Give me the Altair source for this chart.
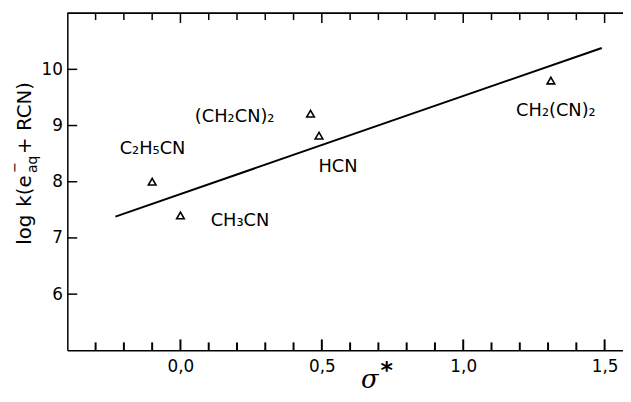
import altair as alt
import pandas as pd

# ---- data ----
compounds = ["C₂H₅CN", "CH₃CN", "(CH₂CN)₂", "HCN", "CH₂(CN)₂"]
sigma_star = [-0.10, 0.00, 0.46, 0.49, 1.31]
log_k = [8.00, 7.40, 9.21, 8.82, 9.80]
label_x = [-0.215, 0.107, 0.051, 0.488, 1.187]
label_y = [8.50, 7.22, 9.06, 8.18, 9.17]
fit_x = [-0.23, 1.49]
fit_y = [7.38, 10.38]
x_major = [0.0, 0.5, 1.0, 1.5]
x_minor = [-0.3, -0.2, -0.1, 0.1, 0.2, 0.3, 0.4, 0.6, 0.7, 0.8, 0.9,
           1.1, 1.2, 1.3, 1.4]
y_ticks = [6, 7, 8, 9, 10]

W, H = 562, 341
FONT = "DejaVu Sans"
INK = "#000000"

xs = alt.Scale(domain=[-0.4, 1.565], nice=False, zero=False)
ys = alt.Scale(domain=[5, 11], nice=False, zero=False)
xaxis = alt.Axis(
    values=x_major, tickSize=0, ticks=False, grid=False, title=None,
    labelExpr="replace(format(datum.value, '.1f'), '.', ',')",
    labelPadding=8)
yaxis = alt.Axis(
    values=y_ticks, format="d", tickSize=0, ticks=False, grid=False,
    title=None, labelPadding=5)


def X(f="x"):
    return alt.X(f + ":Q", scale=xs, axis=xaxis)


def Y(f="y"):
    return alt.Y(f + ":Q", scale=ys, axis=yaxis)


pts = pd.DataFrame({"x": sigma_star, "y": log_k, "name": compounds})
labs = pd.DataFrame({"x": label_x, "y": label_y, "name": compounds})
fit = pd.DataFrame({"x": fit_x, "y": fit_y})
xmaj = pd.DataFrame({"x": x_major, "y0": [5.0] * 4,
                     "y1": [5.0 + 11 * 6.0 / H] * 4})
xmin = pd.DataFrame({"x": x_minor, "y0": [5.0] * len(x_minor),
                     "y1": [5.0 + 8 * 6.0 / H] * len(x_minor)})
yt = pd.DataFrame({"y": y_ticks})

line = alt.Chart(fit).mark_line(color=INK, strokeWidth=2).encode(x=X(), y=Y())

points = alt.Chart(pts).mark_point(
    shape="triangle-up", filled=False, size=60, color=INK, strokeWidth=1.6,
    opacity=1
).encode(x=X(), y=Y())

labels = alt.Chart(labs).mark_text(
    align="left", baseline="alphabetic", font=FONT, fontSize=18, color=INK
).encode(x=X(), y=Y(), text="name:N")

bot_major = alt.Chart(xmaj).mark_rule(color=INK, strokeWidth=2).encode(
    x=X(), y=Y("y0"), y2="y1:Q")
bot_minor = alt.Chart(xmin).mark_rule(color=INK, strokeWidth=2).encode(
    x=X(), y=Y("y0"), y2="y1:Q")
top_major = alt.Chart(xmaj).mark_rule(color=INK, strokeWidth=1.5).encode(
    x=X(), y=alt.value(0), y2=alt.value(10))
top_minor = alt.Chart(xmin).mark_rule(color=INK, strokeWidth=1.5).encode(
    x=X(), y=alt.value(0), y2=alt.value(7))
left_ticks = alt.Chart(yt).mark_rule(color=INK, strokeWidth=1.5).encode(
    y=Y(), x=alt.value(0), x2=alt.value(10))
top_border = alt.Chart(fit).mark_rule(color=INK, strokeWidth=1.5).encode(
    x=alt.value(0), x2=alt.value(W), y=alt.value(0))

one = pd.DataFrame({"k": [0]})


def txt(s, x, y, size, angle=0, **kw):
    return alt.Chart(one).mark_text(
        text=s, font=kw.pop("font", FONT), fontSize=size, angle=angle,
        align="center", baseline="middle", color=INK, **kw
    ).encode(x=alt.value(x), y=alt.value(y))


ytitle = [
    txt("log", -43, 219, 20, 270),
    txt("k(e", -43, 180, 20, 270),
    txt("−", -53, 156, 13, 270),
    txt("aq", -35, 153, 14, 270),
    txt("+ RCN)", -43, 106, 20, 270),
]
xtitle = [
    txt("σ", 306, 371, 26, 0, font="DejaVu Serif", fontStyle="italic"),
    txt("*", 323, 362, 24, 0, fontWeight="bold"),
]

chart = alt.layer(
    line, points, labels, bot_major, bot_minor, top_major, top_minor,
    left_ticks, top_border, *ytitle, *xtitle
).properties(
    width=W, height=H,
    autosize=alt.AutoSizeParams(type="none"),
    padding={"left": 60, "top": 3, "right": 0, "bottom": 44},
).configure_view(stroke=None).configure_axis(
    domainColor=INK, domainWidth=1.5, labelFont=FONT, labelFontSize=17,
    labelColor=INK,
)

chart.save("out.html", embed_options={"renderer": "svg", "actions": False})
